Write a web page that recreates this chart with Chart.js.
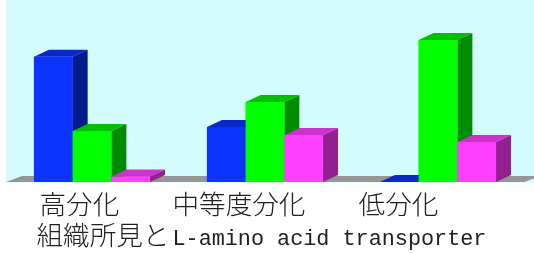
<!DOCTYPE html>
<html>
<head>
<meta charset="utf-8">
<script src="https://cdn.jsdelivr.net/npm/chart.js@4/dist/chart.umd.min.js"></script>
<style>
  html, body { margin: 0; padding: 0; background: #ffffff; }
  #wrap { width: 534px; height: 253px; }
</style>
</head>
<body>
<div id="wrap"><canvas id="c" width="534" height="253"></canvas></div>
<script>
// ---- data ----
const categories = ['高分化', '中等度分化', '低分化'];
const seriesNames = ['系列1', '系列2', '系列3'];
const series1 = [68.8, 30.2, 0];
const series2 = [28.0, 44.0, 78.0];
const series3 = [3.0, 25.8, 22.0];
const titleText = '組織所見とL-amino acid transporter';

// ---- styles ----
const frontColors = ['#0d33ff', '#00ff00', '#ff40ff'];
const topColors   = ['#0a28c8', '#00c000', '#cc33cc'];
const sideColors  = ['#001c8a', '#008c00', '#922090'];
const DX = 15, DY = -7;

const bg3d = {
  id: 'bg3d',
  beforeDatasetsDraw(chart) {
    const ctx = chart.ctx, a = chart.chartArea;
    ctx.save();
    ctx.fillStyle = '#d5fcfc';
    ctx.fillRect(a.left + 0.5, 0, chart.width - a.left, a.bottom + 0.5);
    // floor
    ctx.fillStyle = '#969696';
    ctx.beginPath();
    ctx.moveTo(a.left + 0.5, a.bottom);
    ctx.lineTo(a.right, a.bottom);
    ctx.lineTo(a.right + 16, a.bottom - 6);
    ctx.lineTo(a.left + 16.5, a.bottom - 6);
    ctx.closePath();
    ctx.fill();
    ctx.restore();
  },
  afterDatasetsDraw(chart) {
    const ctx = chart.ctx;
    const n = chart.data.labels.length;
    ctx.save();
    for (let i = 0; i < n; i++) {
      chart.data.datasets.forEach((ds, d) => {
        const el = chart.getDatasetMeta(d).data[i];
        const p = el.getProps(['x', 'y', 'base', 'width'], true);
        const l = p.x - p.width / 2, r = p.x + p.width / 2;
        const t = Math.min(p.y, p.base), b = p.base;
        // side
        ctx.fillStyle = sideColors[d];
        ctx.beginPath();
        ctx.moveTo(r, t); ctx.lineTo(r + DX, t + DY);
        ctx.lineTo(r + DX, b + DY); ctx.lineTo(r, b);
        ctx.closePath(); ctx.fill();
        // top
        ctx.fillStyle = topColors[d];
        ctx.beginPath();
        ctx.moveTo(l, t); ctx.lineTo(r, t);
        ctx.lineTo(r + DX, t + DY); ctx.lineTo(l + DX, t + DY);
        ctx.closePath(); ctx.fill();
        // front
        ctx.fillStyle = frontColors[d];
        ctx.fillRect(l, t, r - l, b - t);
      });
    }
    ctx.restore();
  },
  afterDraw(chart) {
    const ctx = chart.ctx;
    ctx.save();
    ctx.fillStyle = '#202020';
    ctx.textBaseline = 'alphabetic';
    const cjkFont = '300 26.6px "Noto Sans CJK JP"';
    const latFont = '21.8px "Liberation Mono", "DejaVu Sans Mono", monospace';
    // line 1: category labels
    ctx.font = cjkFont;
    ctx.fillText(chart.data.labels.join('\u3000\u3000'), 39.5, 213.5);
    // line 2: title, split into CJK / Latin runs
    const runs = titleText.match(/[\u3000-\u9fff\uff00-\uffef]+|[^\u3000-\u9fff\uff00-\uffef]+/g);
    let x = 36.5;
    runs.forEach(run => {
      const isCJK = /[\u3000-\u9fff\uff00-\uffef]/.test(run);
      ctx.font = isCJK ? cjkFont : latFont;
      if (!isCJK) x += 3;
      ctx.fillText(run, x, 244.5);
      x += ctx.measureText(run).width;
    });
    ctx.restore();
  }
};

new Chart(document.getElementById('c'), {
  type: 'bar',
  data: {
    labels: categories,
    datasets: [series1, series2, series3].map((v, i) => ({
      label: seriesNames[i],
      data: v,
      backgroundColor: frontColors[i],
      borderWidth: 0,
      categoryPercentage: 0.671,
      barPercentage: 1.0
    }))
  },
  options: {
    responsive: false,
    animation: false,
    events: [],
    layout: { padding: { left: 5.5, right: 9.5, top: 0, bottom: 71 } },
    plugins: { legend: { display: false }, title: { display: false }, tooltip: { enabled: false } },
    scales: {
      x: { display: false },
      y: { display: false, min: 0, max: 100 }
    }
  },
  plugins: [bg3d]
});
</script>
</body>
</html>
